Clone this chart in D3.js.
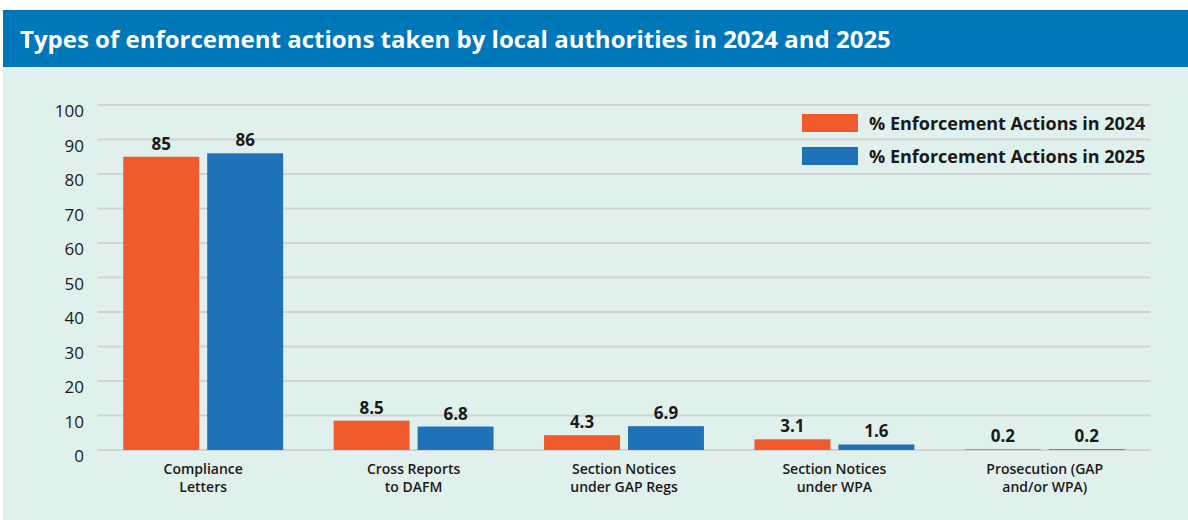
<!DOCTYPE html>
<html>
<head>
<meta charset="utf-8">
<script src="https://cdn.jsdelivr.net/npm/d3@7"></script>
<style>
  html, body { margin: 0; padding: 0; background: #ffffff; }
  svg { display: block; }
</style>
</head>
<body>
<script>
// data
const categories = [
  ["Compliance", "Letters"],
  ["Cross Reports", "to DAFM"],
  ["Section Notices", "under GAP Regs"],
  ["Section Notices", "under WPA"],
  ["Prosecution (GAP", "and/or WPA)"]
];
const series = ["% Enforcement Actions in 2024", "% Enforcement Actions in 2025"];
const values2024 = [85, 8.5, 4.3, 3.1, 0.2];
const values2025 = [86, 6.8, 6.9, 1.6, 0.2];
const yTicks = [0, 10, 20, 30, 40, 50, 60, 70, 80, 90, 100];
const title = "Types of enforcement actions taken by local authorities in 2024 and 2025";

const width = 1188;
const height = 520;
const colors = ["#f15a2b", "#1f72b8"];
const font = "'Open Sans', 'Noto Sans', sans-serif";

const rows = categories.map((c, i) => ({
    key: c.join(" "),
    lines: c,
    values: [values2024[i], values2025[i]]
}));

const svg = d3.select("body").append("svg")
    .attr("width", width)
    .attr("height", height)
    .attr("viewBox", [0, 0, width, height]);

// panel + header
svg.append("rect")
    .attr("x", 3).attr("y", 67)
    .attr("width", width - 3).attr("height", height - 67)
    .attr("fill", "#e0f0ec");

svg.append("rect")
    .attr("x", 3).attr("y", 10)
    .attr("width", width - 3).attr("height", 57)
    .attr("fill", "#0077b8");

svg.append("text")
    .attr("x", 20).attr("y", 48)
    .attr("fill", "#ffffff")
    .attr("font-family", font)
    .attr("font-weight", "bold")
    .attr("font-size", 24)
    .text(title);

const x0 = d3.scaleBand()
    .domain(rows.map(d => d.key))
    .range([98, 1150])
    .paddingInner(0.24)
    .paddingOuter(0.12);

const x1 = d3.scaleBand()
    .domain(d3.range(series.length))
    .range([0, x0.bandwidth()])
    .paddingInner(0.095);

const y = d3.scaleLinear()
    .domain([0, 100])
    .range([450, 105]);

// gridlines + y labels
svg.append("g")
    .attr("stroke", "#cfd3d3")
    .attr("stroke-width", 2)
    .selectAll("line")
    .data(yTicks)
    .join("line")
    .attr("x1", 98).attr("x2", 1150)
    .attr("y1", d => y(d)).attr("y2", d => y(d));

svg.append("g")
    .attr("font-family", font)
    .attr("font-size", 17)
    .attr("fill", "#1a1a1a")
    .attr("text-anchor", "end")
    .selectAll("text")
    .data(yTicks)
    .join("text")
    .attr("x", 84)
    .attr("y", d => y(d) + 12)
    .text(d => d);

// bars
const group = svg.append("g")
    .selectAll("g")
    .data(rows)
    .join("g")
    .attr("transform", d => `translate(${x0(d.key)},0)`);

group.selectAll("rect")
    .data(d => d.values.map((v, i) => ({ v, i })))
    .join("rect")
    .attr("x", d => x1(d.i))
    .attr("width", x1.bandwidth())
    .attr("y", d => y(d.v))
    .attr("height", d => y(0) - y(d.v))
    .attr("fill", d => colors[d.i]);

group.selectAll("text.val")
    .data(d => d.values.map((v, i) => ({ v, i })))
    .join("text")
    .attr("class", "val")
    .attr("x", d => x1(d.i) + x1.bandwidth() / 2)
    .attr("y", d => y(d.v) - 7)
    .attr("text-anchor", "middle")
    .attr("font-family", font)
    .attr("font-weight", "bold")
    .attr("font-size", 17)
    .attr("fill", "#1a1a1a")
    .text(d => d.v);

// category labels
group.append("text")
    .attr("x", x0.bandwidth() / 2)
    .attr("text-anchor", "middle")
    .attr("font-family", font)
    .attr("font-weight", 600)
    .attr("font-size", 14)
    .attr("fill", "#1a1a1a")
    .selectAll("tspan")
    .data(d => d.lines)
    .join("tspan")
    .attr("x", x0.bandwidth() / 2)
    .attr("y", (d, i) => 474 + i * 18)
    .text(d => d);

// legend
const legend = svg.append("g")
    .selectAll("g")
    .data(series)
    .join("g")
    .attr("transform", (d, i) => `translate(802,${114 + i * 33})`);

legend.append("rect")
    .attr("width", 56).attr("height", 18)
    .attr("fill", (d, i) => colors[i]);

legend.append("text")
    .attr("x", 67).attr("y", 16)
    .attr("font-family", font)
    .attr("font-weight", "bold")
    .attr("font-size", 18)
    .attr("fill", "#1a1a1a")
    .text(d => d);
</script>
</body>
</html>
